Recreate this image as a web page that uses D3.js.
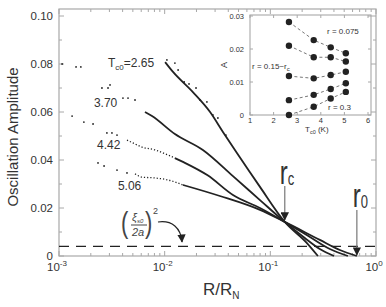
<!DOCTYPE html>
<html>
<head>
<meta charset="utf-8">
<style>
  body { margin: 0; background: #fff; }
  svg { display: block; font-family: "Liberation Sans", Arial, sans-serif; }
</style>
</head>
<body>
<svg width="386" height="307"></svg>
<script src="https://d3js.org/d3.v7.min.js"></script>
<script>
// ---- main plot data, [R/RN, amplitude] ----
const tcLabels = ["2.65", "3.70", "4.42", "5.06"];

const scatter265 = [[0.0105, 0.0817], [0.0125, 0.0804], [0.0134, 0.0775], [0.0153, 0.0725], [0.0170, 0.0717],
  [0.0198, 0.0700], [0.0216, 0.0650], [0.0251, 0.0642], [0.0286, 0.0588], [0.0319, 0.0575], [0.0380, 0.0504]];
const line265 = [[0.0101, 0.0808], [0.0120, 0.0767], [0.0185, 0.0683], [0.0269, 0.0600], [0.0356, 0.0517],
  [0.0483, 0.0429], [0.0798, 0.0288], [0.137, 0.0142], [0.222, 0.0054], [0.282, 0]];

const dots370 = [[0.00107, 0.0800], [0.00145, 0.0788], [0.00161, 0.0788], [0.00255, 0.0700], [0.00291, 0.0700],
  [0.00304, 0.0713], [0.00403, 0.0658], [0.00450, 0.0658], [0.00524, 0.0650]];
const line370 = [[0.00651, 0.0600], [0.00759, 0.0583], [0.0125, 0.0508], [0.0230, 0.0442],
  [0.0443, 0.0333], [0.0798, 0.0233], [0.137, 0.0142], [0.212, 0.0075], [0.294, 0.0029], [0.400, 0]];

const dots442 = [[0.00133, 0.0583], [0.00172, 0.0558], [0.00210, 0.0550], [0.00284, 0.0513], [0.00317, 0.0513],
  [0.00354, 0.0504]];
const dotted442 = [[0.00440, 0.0483], [0.00501, 0.0471], [0.00610, 0.0454], [0.00809, 0.0442], [0.01074, 0.0421],
  [0.0125, 0.0408]];
const line442 = [[0.0125, 0.0408], [0.0149, 0.0392], [0.0255, 0.0336], [0.0443, 0.0254], [0.0798, 0.0200],
  [0.137, 0.0142], [0.237, 0.0079], [0.366, 0.0029], [0.542, 0]];

const dots506 = [[0.00234, 0.0388], [0.00267, 0.0375], [0.00354, 0.0358], [0.00440, 0.0346]];
const dotted506 = [[0.00524, 0.0342], [0.00610, 0.0329], [0.00809, 0.0325], [0.01074, 0.0317], [0.0149, 0.0296]];
const line506 = [[0.0149, 0.0296], [0.0333, 0.0250], [0.0798, 0.0192], [0.137, 0.0142], [0.294, 0.0067],
  [0.455, 0.0025], [0.659, 0]];

const dashLevel = 0.004;   // (xi/2a)^2
const rc = 0.137, r0 = 0.659;

const xMajor = [1e-3, 1e-2, 1e-1, 1];
const xExp = ["-3", "-2", "-1", "0"];
const yMajor = [0, 0.02, 0.04, 0.06, 0.08, 0.10];
const yLabels = ["0", "0.02", "0.04", "0.06", "0.08", "0.10"];

// ---- inset data ----
const tc0 = [2.65, 3.70, 4.42, 5.06];
const ampR075 = [0.0282, 0.0227, 0.0205, 0.0187];
const ampR10 = [0.0210, 0.0175, 0.0175, 0.0162];
const ampR15 = [0.0118, 0.0111, 0.0121, 0.0131];
const ampR20 = [0.0045, 0.0061, 0.0079, 0.0096];
const ampR30 = [0.0000, 0.0025, 0.0050, 0.0070];
const insetXTicks = [1, 2, 3, 4, 5, 6];
const insetYTicks = [0, 0.01, 0.02, 0.03];
const insetYLabels = ["0", "0.01", "0.02", "0.03"];

const svg = d3.select("svg");
const ink = "#222", frame = "#a8a8a8", txt = "#333";

const x = d3.scaleLog().domain([1e-3, 1]).range([59, 376]);
const y = d3.scaleLinear().domain([0, 0.1]).range([256, 16]);
const yTop = 9;

// frame
svg.append("rect").attr("x", 59).attr("y", yTop).attr("width", 376 - 59).attr("height", 256 - yTop)
  .attr("fill", "none").attr("stroke", frame).attr("stroke-width", 1.2);

// x ticks (log) bottom + top, inward
const xMinor = x.ticks().filter(v => xMajor.indexOf(v) < 0);
const tickG = svg.append("g").attr("stroke", frame).attr("stroke-width", 1);
xMinor.forEach(v => {
  tickG.append("line").attr("x1", x(v)).attr("x2", x(v)).attr("y1", 256).attr("y2", 253);
  tickG.append("line").attr("x1", x(v)).attr("x2", x(v)).attr("y1", yTop).attr("y2", yTop + 3);
});
xMajor.forEach(v => {
  tickG.append("line").attr("x1", x(v)).attr("x2", x(v)).attr("y1", 256).attr("y2", 251);
  tickG.append("line").attr("x1", x(v)).attr("x2", x(v)).attr("y1", yTop).attr("y2", yTop + 5);
});
d3.range(0, 0.101, 0.01).forEach((v, i) => {
  const len = i % 2 === 0 ? 5 : 3;
  tickG.append("line").attr("x1", 59).attr("x2", 59 + len).attr("y1", y(v)).attr("y2", y(v));
  tickG.append("line").attr("x1", 376).attr("x2", 376 - len).attr("y1", y(v)).attr("y2", y(v));
});

// tick labels
yMajor.forEach((v, i) => {
  svg.append("text").attr("x", 53).attr("y", y(v) + 4).attr("text-anchor", "end")
    .attr("font-size", 11.5).attr("fill", txt).text(yLabels[i]);
});
xMajor.forEach((v, i) => {
  const t = svg.append("text").attr("x", x(v) - 2).attr("y", 271).attr("text-anchor", "middle")
    .attr("font-size", 11.5).attr("fill", txt);
  t.append("tspan").text("10");
  t.append("tspan").attr("font-size", 8).attr("dy", -5).text(xExp[i]);
});

// axis titles
svg.append("text").attr("transform", "translate(18,137) rotate(-90)").attr("text-anchor", "middle")
  .attr("font-size", 15).attr("fill", txt).text("Oscillation Amplitude");
const xt = svg.append("text").attr("x", 203).attr("y", 295).attr("font-size", 17).attr("fill", txt);
xt.append("tspan").text("R/R");
xt.append("tspan").attr("font-size", 10).attr("dy", 4).text("N");

// dashed level
svg.append("line").attr("x1", x(1e-3)).attr("x2", x(1)).attr("y1", y(dashLevel)).attr("y2", y(dashLevel))
  .attr("stroke", ink).attr("stroke-width", 1.3).attr("stroke-dasharray", "10,7");

// curves
const line = d3.line().x(d => x(d[0])).y(d => y(d[1])).curve(d3.curveMonotoneX);
[line265, line370, line442, line506].forEach(data => {
  svg.append("path").attr("d", line(data)).attr("fill", "none").attr("stroke", ink).attr("stroke-width", 1.8);
});
[dotted442, dotted506].forEach(data => {
  svg.append("path").attr("d", line(data)).attr("fill", "none").attr("stroke", ink)
    .attr("stroke-width", 1.3).attr("stroke-dasharray", "1.2,2");
});
svg.append("g").selectAll("circle").data([].concat(dots370, dots442, dots506, scatter265)).join("circle")
  .attr("cx", d => x(d[0])).attr("cy", d => y(d[1])).attr("r", 0.9).attr("fill", ink);

// curve labels
const labelPos = [[0.00291, 0.0788], [0.00214, 0.0621], [0.00229, 0.0446], [0.00361, 0.0275]];
labelPos.forEach((p, i) => {
  const t = svg.append("text").attr("x", x(p[0])).attr("y", y(p[1])).attr("font-size", 12).attr("fill", txt);
  if (i === 0) {
    t.append("tspan").text("T");
    t.append("tspan").attr("font-size", 8).attr("dy", 3).text("c0");
    t.append("tspan").attr("dy", -3).text("=" + tcLabels[i]);
  } else t.text(tcLabels[i]);
});

// arrows
const defs = svg.append("defs");
defs.append("marker").attr("id", "ah").attr("viewBox", "0 0 10 10").attr("refX", 9).attr("refY", 5)
  .attr("markerWidth", 7).attr("markerHeight", 7).attr("orient", "auto-start-reverse")
  .append("path").attr("d", "M0,0L10,5L0,10z").attr("fill", ink);
svg.append("line").attr("x1", x(rc)).attr("x2", x(rc)).attr("y1", 186).attr("y2", y(0.0142) - 2)
  .attr("stroke", "#777").attr("stroke-width", 1.2).attr("marker-end", "url(#ah)");
svg.append("line").attr("x1", x(r0)).attr("x2", x(r0)).attr("y1", 210).attr("y2", y(0) - 1)
  .attr("stroke", "#777").attr("stroke-width", 1.2).attr("marker-end", "url(#ah)");

function bigR(px, py, sub) {
  const g = svg.append("g").attr("transform", `translate(${px},${py}) scale(1,1.35)`);
  const t = g.append("text").attr("font-size", 24).attr("fill", txt);
  t.append("tspan").text("r");
  t.append("tspan").attr("font-size", 13).attr("dy", 1).text(sub);
}
bigR(x(rc) - 5, 184, "c");
bigR(x(r0) - 4, 207, "0");

// (xi/2a)^2 annotation
const ann = svg.append("g").attr("fill", "#444");
ann.append("text").attr("transform", "translate(121,233) scale(1,1.3)").attr("font-size", 22).text("(");
ann.append("text").attr("transform", "translate(145,233) scale(1,1.3)").attr("font-size", 22).text(")");
const xi = ann.append("text").attr("x", 132).attr("y", 221).attr("font-size", 11).attr("font-style", "italic");
xi.append("tspan").text("ξ");
xi.append("tspan").attr("font-size", 6).attr("dy", 2).text("s0");
ann.append("line").attr("x1", 131).attr("x2", 147).attr("y1", 225).attr("y2", 225).attr("stroke", "#444");
ann.append("text").attr("x", 132).attr("y", 236).attr("font-size", 11).attr("font-style", "italic").text("2a");
ann.append("text").attr("x", 153).attr("y", 214).attr("font-size", 9).text("2");
svg.append("path").attr("d", "M158,222 C172,220 181,228 182,242").attr("fill", "none")
  .attr("stroke", ink).attr("stroke-width", 1.2).attr("marker-end", "url(#ah)");

// ---- inset ----
const ix = d3.scaleLinear().domain([1, 6]).range([250, 368]);
const iy = d3.scaleLinear().domain([0, 0.03]).range([115, 16]);
const ins = svg.append("g");
ins.append("rect").attr("x", 250).attr("y", 15).attr("width", 121).attr("height", 100)
  .attr("fill", "#fff").attr("stroke", frame).attr("stroke-width", 1.1);
insetXTicks.forEach(v => {
  ins.append("line").attr("x1", ix(v)).attr("x2", ix(v)).attr("y1", 115).attr("y2", 112).attr("stroke", frame);
  ins.append("line").attr("x1", ix(v)).attr("x2", ix(v)).attr("y1", 15).attr("y2", 18).attr("stroke", frame);
  ins.append("text").attr("x", ix(v)).attr("y", 123).attr("text-anchor", "middle").attr("font-size", 7.5)
    .attr("fill", txt).text(v);
});
insetYTicks.forEach((v, i) => {
  ins.append("line").attr("x1", 250).attr("x2", 253).attr("y1", iy(v)).attr("y2", iy(v)).attr("stroke", frame);
  ins.append("line").attr("x1", 371).attr("x2", 368).attr("y1", iy(v)).attr("y2", iy(v)).attr("stroke", frame);
  ins.append("text").attr("x", 244).attr("y", iy(v) + 3).attr("text-anchor", "end").attr("font-size", 7.5)
    .attr("fill", txt).text(insetYLabels[i]);
});
ins.append("text").attr("transform", "translate(227,65) rotate(-90)").attr("text-anchor", "middle")
  .attr("font-size", 9).attr("fill", txt).text("A");
const itl = ins.append("text").attr("x", 305).attr("y", 132).attr("font-size", 8).attr("fill", txt);
itl.append("tspan").text("T");
itl.append("tspan").attr("font-size", 5.5).attr("dy", 2).text("c0");
itl.append("tspan").attr("dy", -2).text(" (K)");

const iline = d3.line().x((d, i) => ix(tc0[i])).y(d => iy(d));
[ampR075, ampR10, ampR15, ampR20, ampR30].forEach(s => {
  ins.append("path").attr("d", iline(s)).attr("fill", "none").attr("stroke", "#777")
    .attr("stroke-width", 1).attr("stroke-dasharray", "3,2.5");
  ins.selectAll(null).data(s).join("circle").attr("cx", (d, i) => ix(tc0[i])).attr("cy", d => iy(d))
    .attr("r", 3.2).attr("fill", ink);
});
ins.append("text").attr("x", 327).attr("y", 34).attr("font-size", 8).attr("fill", txt).text("r = 0.075");
const rl = ins.append("text").attr("x", 252).attr("y", 69).attr("font-size", 8).attr("fill", txt);
rl.append("tspan").text("r = 0.15~r");
rl.append("tspan").attr("font-size", 6).attr("dy", 2).text("c");
ins.append("text").attr("x", 328).attr("y", 110).attr("font-size", 8).attr("fill", txt).text("r = 0.3");
</script>
</body>
</html>
